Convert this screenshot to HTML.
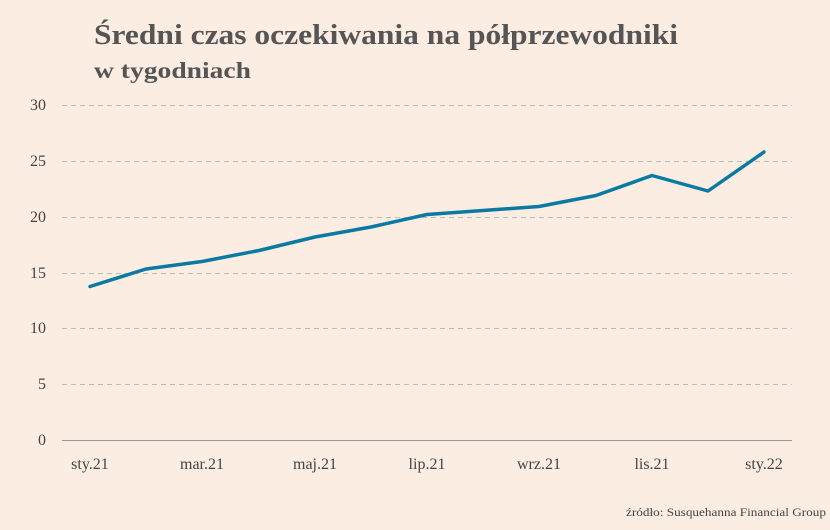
<!DOCTYPE html>
<html><head><meta charset="utf-8"><style>
html,body{margin:0;padding:0;background:#fbede2;}
svg{display:block;}
</style></head><body>
<svg width="830" height="530" viewBox="0 0 830 530" xmlns="http://www.w3.org/2000/svg">
<rect width="830" height="530" fill="#fbede2"/>
<text x="94" y="44" font-family="Liberation Serif, serif" font-weight="bold" font-size="29" fill="#555" textLength="584" lengthAdjust="spacingAndGlyphs">Średni czas oczekiwania na półprzewodniki</text>
<text x="94" y="78" font-family="Liberation Serif, serif" font-weight="bold" font-size="23" fill="#555" textLength="157" lengthAdjust="spacingAndGlyphs">w tygodniach</text>
<g stroke="#bbb" stroke-dasharray="5,4" stroke-width="1">
<line x1="62" x2="792" y1="105.5" y2="105.5"/>
<line x1="62" x2="792" y1="161.5" y2="161.5"/>
<line x1="62" x2="792" y1="217.5" y2="217.5"/>
<line x1="62" x2="792" y1="273.5" y2="273.5"/>
<line x1="62" x2="792" y1="328.5" y2="328.5"/>
<line x1="62" x2="792" y1="384.5" y2="384.5"/>
</g>
<line x1="62" x2="792" y1="440.5" y2="440.5" stroke="#999" stroke-width="1"/>
<g font-family="Liberation Serif, serif" font-size="16" fill="#444" text-anchor="end">
<text x="46" y="110">30</text><text x="46" y="166">25</text><text x="46" y="222">20</text>
<text x="46" y="278">15</text><text x="46" y="333">10</text><text x="46" y="389">5</text><text x="46" y="445">0</text>
</g>
<g font-family="Liberation Serif, serif" font-size="16" fill="#444" text-anchor="middle">
<text x="90" y="469">sty.21</text><text x="202" y="469">mar.21</text><text x="315" y="469">maj.21</text>
<text x="427" y="469">lip.21</text><text x="539" y="469">wrz.21</text><text x="652" y="469">lis.21</text><text x="764" y="469">sty.22</text>
</g>
<polyline fill="none" stroke="#0b7aa3" stroke-width="3.5" stroke-linejoin="round" stroke-linecap="round"
points="90,286.5 146,269 202,261.5 259,250.5 315,237 371,227 427,214.5 483,210.5 539,206.5 596,195.5 652,175.5 708,191 764,152"/>
<text x="626" y="516" font-family="Liberation Serif, serif" font-size="12" fill="#444" textLength="200" lengthAdjust="spacingAndGlyphs">źródło: Susquehanna Financial Group</text>
</svg>
</body></html>
